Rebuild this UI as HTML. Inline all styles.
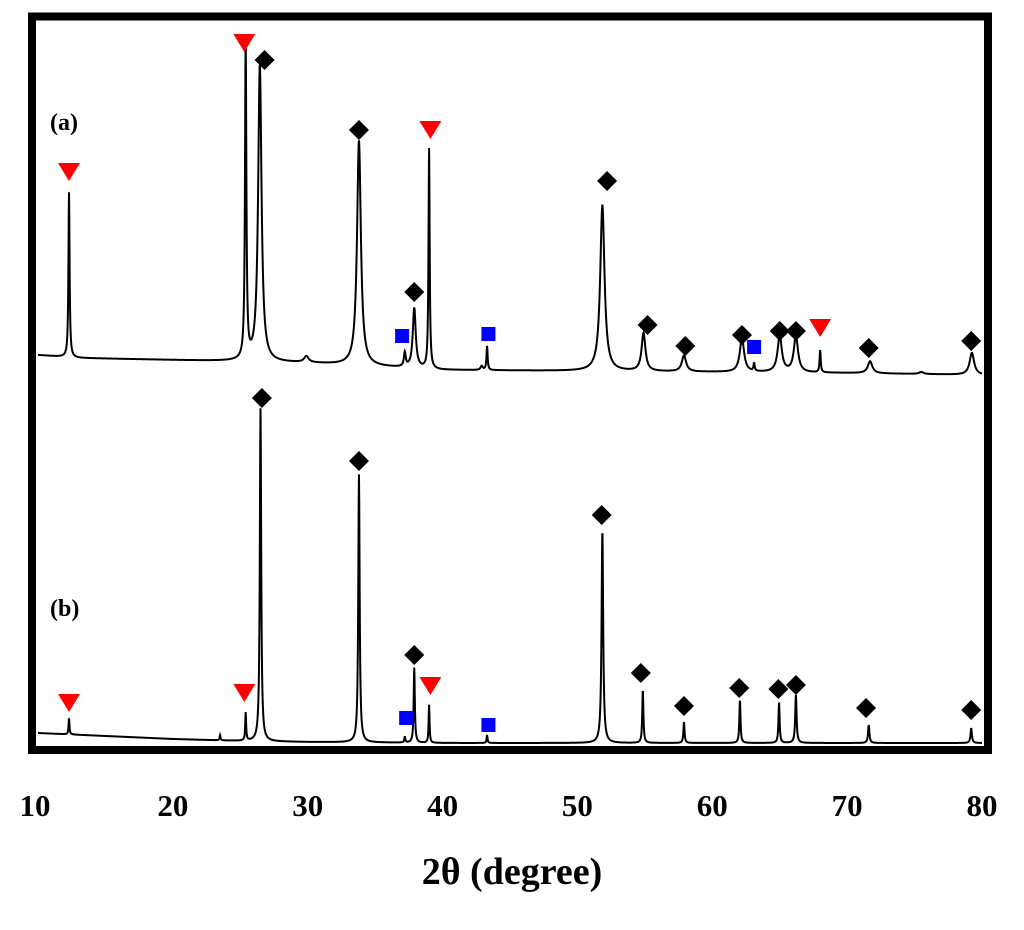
<!DOCTYPE html>
<html><head><meta charset="utf-8"><style>
html,body{margin:0;padding:0;background:#fff;width:1024px;height:930px;overflow:hidden}
svg{display:block}
</style></head><body>
<svg id="chart" width="1024" height="930" viewBox="0 0 1024 930" xmlns="http://www.w3.org/2000/svg">
<g id="curves"></g>
<g id="markers"></g>
<rect x="32" y="16.5" width="956" height="733.5" fill="none" stroke="#000" stroke-width="8"/>
<text x="50" y="130" font-family="Liberation Serif, serif" font-weight="bold" font-size="24">(a)</text>
<text x="50" y="616" font-family="Liberation Serif, serif" font-weight="bold" font-size="24">(b)</text>
<g id="ticks" font-family="Liberation Serif, serif" font-weight="bold" font-size="31" text-anchor="middle"></g>
<text x="512" y="884" text-anchor="middle" font-family="Liberation Serif, serif" font-weight="bold" font-size="38">2θ (degree)</text>
</svg>
<script>
// x-axis ticks
const tickValues = [10, 20, 30, 40, 50, 60, 70, 80];
// series (a): peak positions (2θ), heights (counts above baseline), widths (deg)
const peaksA_pos = [12.3, 25.4, 26.45, 29.9, 33.8, 37.2, 37.9, 39.0, 42.9, 43.3, 51.85, 54.9, 57.9, 62.2, 63.1, 65.0, 66.2, 68.0, 71.7, 75.5, 79.25];
const peaksA_h   = [165, 318, 296, 6, 225, 14, 60, 220, 4, 24, 166, 38, 16, 34, 8, 36, 36, 22, 12, 2, 22];
const peaksA_w   = [0.05, 0.06, 0.15, 0.2, 0.17, 0.08, 0.13, 0.05, 0.1, 0.05, 0.19, 0.17, 0.19, 0.19, 0.05, 0.19, 0.19, 0.05, 0.2, 0.2, 0.2];
// series (a) baseline control points
const baseA_x = [10, 13, 20, 30, 40, 50, 60, 70, 80];
const baseA_y = [18, 15, 13, 10, 3, 2, 1, 0, -2];
// series (b)
const peaksB_pos = [12.3, 23.5, 25.4, 26.5, 33.8, 37.2, 37.9, 39.0, 43.3, 51.85, 54.85, 57.9, 62.05, 64.95, 66.2, 71.6, 79.2];
const peaksB_h   = [16, 5, 28, 333, 268, 6, 75, 38, 8, 213, 53, 21, 43, 41, 48, 18, 15];
const peaksB_w   = [0.04, 0.04, 0.04, 0.06, 0.06, 0.04, 0.05, 0.04, 0.04, 0.07, 0.05, 0.05, 0.05, 0.05, 0.06, 0.06, 0.06];
const baseB_x = [10, 15, 20, 25, 30, 40, 60, 80];
const baseB_y = [10, 7, 4, 2, 1, 0, 0, 0];
// markers: type (t=triangle, d=diamond, s=square), position, intensity at marker (same units)
const markA_type = ['t','t','d','d','s','d','t','s','d','d','d','d','s','d','d','t','d','d'];
const markA_pos  = [12.3, 25.3, 26.8, 33.8, 37.0, 37.9, 39.1, 43.4, 52.2, 55.2, 58.0, 62.2, 63.1, 65.0, 66.2, 68.0, 71.6, 79.2];
const markA_y    = [201, 330, 313, 243, 37, 81, 243, 39, 192, 48, 27, 38, 26, 42, 42, 45, 25, 32];
const markB_type = ['t','t','d','d','s','d','t','s','d','d','d','d','d','d','d','d'];
const markB_pos  = [12.3, 25.3, 26.6, 33.8, 37.3, 37.9, 39.1, 43.4, 51.8, 54.7, 57.9, 62.0, 64.9, 66.2, 71.4, 79.2];
const markB_y    = [40, 50, 345, 282, 25, 88, 57, 18, 228, 70, 37, 55, 54, 58, 35, 33];

const NS = 'http://www.w3.org/2000/svg';
const X0 = 38, X1 = 982;
function xs(v){ return X0 + (v - 10) * (X1 - X0) / 70; }
const zeroA = 373, zeroB = 743;
function ysA(v){ return zeroA - v; }
function ysB(v){ return zeroB - v; }
function interp(xa, ya, x){
  if (x <= xa[0]) return ya[0];
  for (let i = 1; i < xa.length; i++) if (x <= xa[i]) { const t=(x-xa[i-1])/(xa[i]-xa[i-1]); return ya[i-1]+t*(ya[i]-ya[i-1]); }
  return ya[ya.length-1];
}
function intensity(x, pos, h, w, bx, by){
  let s = interp(bx, by, x);
  for (let i = 0; i < pos.length; i++){ const d=(x-pos[i])/w[i]; s += h[i]/(1+d*d); }
  return s;
}
const curves = document.getElementById('curves');
function drawSeries(pos,h,w,bx,by,ys,name){
  let d='';
  for (let x = 10; x <= 80.0001; x += 0.02){
    const v = intensity(x,pos,h,w,bx,by);
    d += (d?'L':'M') + xs(x).toFixed(2) + ',' + ys(v).toFixed(2);
  }
  const p = document.createElementNS(NS,'path');
  p.setAttribute('d', d); p.setAttribute('fill','none'); p.setAttribute('stroke','#000'); p.setAttribute('stroke-width','2');
  
  
  curves.appendChild(p);
}
drawSeries(peaksA_pos,peaksA_h,peaksA_w,baseA_x,baseA_y,ysA,'series-a-line');
drawSeries(peaksB_pos,peaksB_h,peaksB_w,baseB_x,baseB_y,ysB,'series-b-line');

const markers = document.getElementById('markers');
function drawMarkers(types,pos,vals,ys,prefix){
  for (let i=0;i<types.length;i++){
    const cx = xs(pos[i]), cy = ys(vals[i]);
    let el;
    if (types[i]==='t'){
      el = document.createElementNS(NS,'polygon');
      el.setAttribute('points', `${cx-11},${cy-9} ${cx+11},${cy-9} ${cx},${cy+9}`);
      el.setAttribute('fill','#ff0000');
      
    } else if (types[i]==='d'){
      el = document.createElementNS(NS,'polygon');
      el.setAttribute('points', `${cx},${cy-10} ${cx+10},${cy} ${cx},${cy+10} ${cx-10},${cy}`);
      el.setAttribute('fill','#000');
      
    } else {
      el = document.createElementNS(NS,'rect');
      el.setAttribute('x', cx-7); el.setAttribute('y', cy-7); el.setAttribute('width',14); el.setAttribute('height',14);
      el.setAttribute('fill','#0000ff');
      
    }
    
    markers.appendChild(el);
  }
}
drawMarkers(markA_type,markA_pos,markA_y,ysA,'series-a');
drawMarkers(markB_type,markB_pos,markB_y,ysB,'series-b');

const ticks = document.getElementById('ticks');
tickValues.forEach(v=>{
  const t = document.createElementNS(NS,'text');
  t.setAttribute('x', xs(v) - (v===10?3:0)); t.setAttribute('y', 816);
  t.textContent = v;
  
  
  ticks.appendChild(t);
});
</script>
</body></html>
